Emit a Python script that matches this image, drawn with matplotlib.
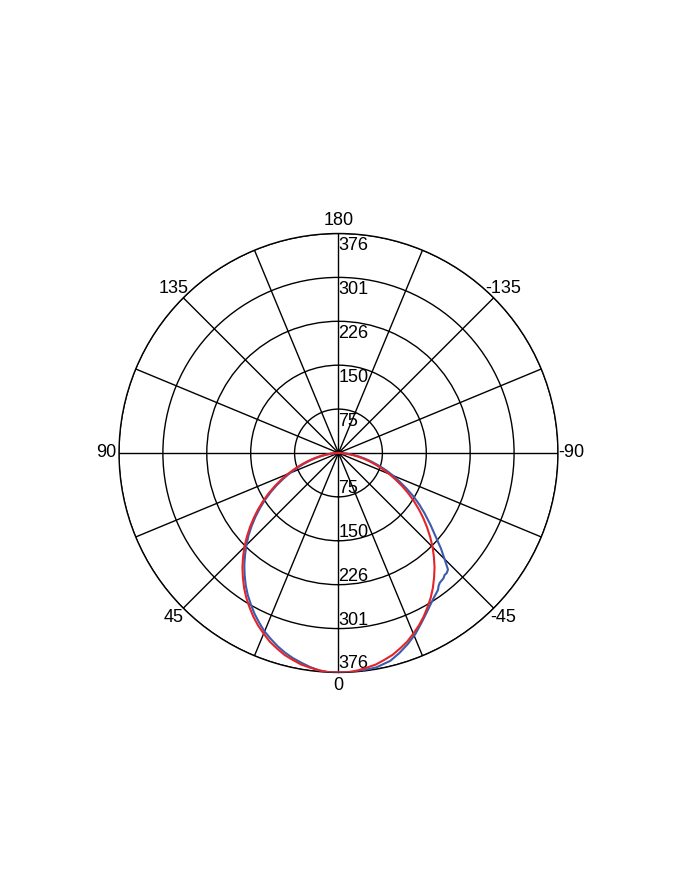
import numpy as np
import matplotlib.pyplot as plt

plt.rcParams['font.family'] = ['Liberation Sans Narrow', 'Liberation Sans', 'DejaVu Sans']

# ring values and labels
ring_vals = [75.2, 150.4, 225.6, 300.8, 376]
ring_labels = ['75', '150', '226', '301', '376']

# angle ticks (only every 45 deg labelled)
angle_ticks = [0, 22.5, 45, 67.5, 90, 112.5, 135, 157.5, 180,
               -157.5, -135, -112.5, -90, -67.5, -45, -22.5]
angle_labels = ['0', '', '45', '', '90', '', '135', '', '180',
                '', '-135', '', '-90', '', '-45', '']

# red curve (fitted, symmetric) - one half, 0..90 deg
red_half_deg = [0, 2.5, 5, 7.5, 10, 12.5, 15, 17.5, 20, 22.5, 25, 27.5, 30, 32.5,
                35, 37.5, 40, 42.5, 45, 47.5, 50, 52.5, 55, 57.5, 60, 62.5, 65,
                67.5, 70, 72.5, 75, 77.5, 80, 82.5, 85, 87.5, 90]
red_half_val = [376, 376, 374, 371, 368, 363, 358, 351, 344, 335, 326, 316, 305, 294,
                282, 269, 256, 242, 228, 213, 198, 183, 168, 153, 138, 123, 108,
                94, 80, 67, 55, 43, 32, 22, 13, 5, 0]

# blue curve (measured)
blue_deg = [-90, -87.5, -85, -82.5, -80, -77.5, -75, -72.5, -70, -67.5, -65, -62.5,
            -60, -57.5, -55, -52, -49, -47, -45, -43.2, -42, -41, -40, -39, -38,
            -37, -36, -33, -29, -26, -23, -20, -17, -14, -10, -5, 0,
            2.5, 5, 7.5, 10, 12.5, 15, 17.5, 20, 22.5, 25, 27.5, 30, 32.5, 35,
            37.5, 40, 42.5, 45, 47.5, 50, 52.5, 55, 57.5, 60, 62.5, 65, 67.5,
            70, 72.5, 75, 77.5, 80, 82.5, 85, 87.5, 90]
blue_val = [0, 6, 15, 25, 36, 48, 60, 73, 87, 101, 115, 131,
            148, 164, 180, 200, 222, 240, 257, 274, 277, 277, 280, 281, 282,
            285, 290, 298, 312, 324, 337, 348, 358, 367, 373, 376, 376,
            376, 374, 370, 365, 360, 354, 347, 339, 331, 321, 311, 300, 289, 277,
            264, 251, 237, 223, 209, 194, 179, 164, 149, 134, 119, 104, 90,
            76, 63, 51, 40, 29, 20, 11, 4, 0]

red_deg = [-d for d in red_half_deg[::-1]] + red_half_deg[1:]
red_val = red_half_val[::-1] + red_half_val[1:]

fig = plt.figure(figsize=(7, 8.8), dpi=100)
ax = fig.add_axes([0.17, 0.2358, 0.6271, 0.4989], projection='polar')
ax.set_theta_zero_location('S')
ax.set_theta_direction(-1)

ax.plot(np.deg2rad(blue_deg), blue_val, color='#3b5bab', lw=1.5, zorder=3)
ax.plot(np.deg2rad(red_deg), red_val, color='#e3242b', lw=1.5, zorder=4)

ax.set_xticks(np.deg2rad(np.mod(angle_ticks, 360)))
ax.set_xticklabels(angle_labels, fontsize=13)
ax.set_thetamin(0)
ax.set_thetamax(360)
ax.set_ylim(0, 376)
ax.set_yticks(ring_vals)
ax.set_yticklabels([])
ax.grid(True, color='black', lw=1.0)
ax.spines['polar'].set_linewidth(1.0)
ax.tick_params(axis='x', pad=-1)

# radial labels up and down the vertical axis
for r, lab in zip(ring_vals, ring_labels):
    ax.text(np.pi, r - 6, lab, ha='left', va='top', fontsize=13)
    ax.text(0, r, lab, ha='left', va='bottom', fontsize=13)

fig.savefig('out.png', dpi=100)
